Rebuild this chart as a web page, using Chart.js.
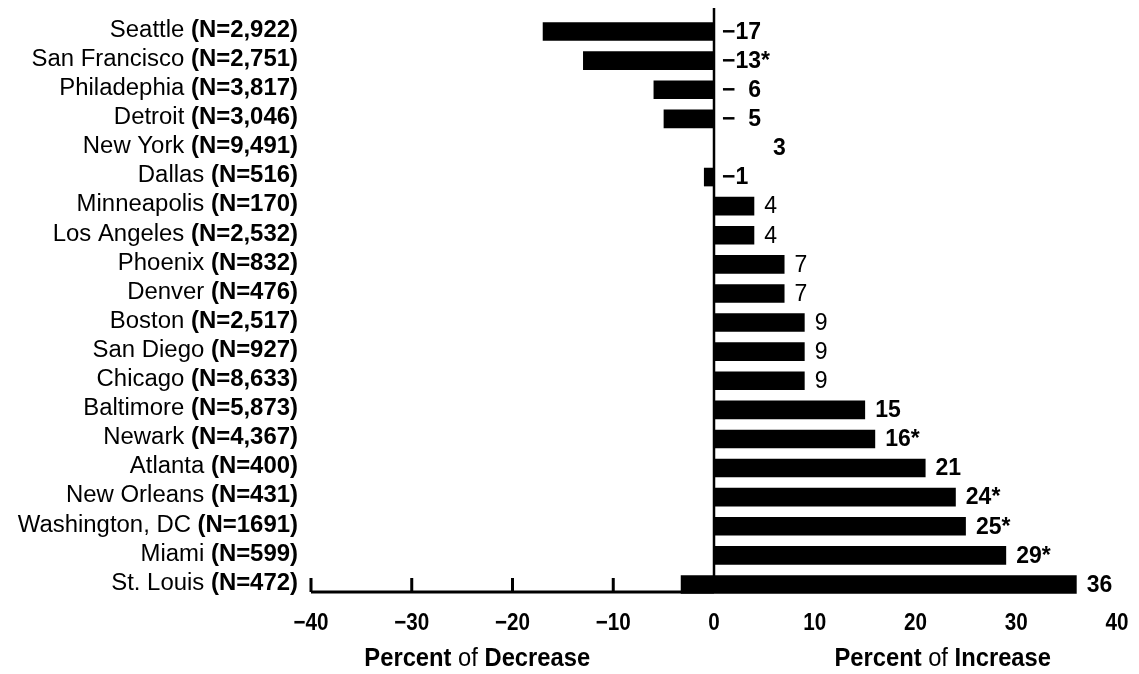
<!DOCTYPE html>
<html>
<head>
<meta charset="utf-8">
<script src="https://cdn.jsdelivr.net/npm/chart.js@4.4.1/dist/chart.umd.min.js"></script>
<style>
  html, body { margin: 0; padding: 0; background: #fff; }
  #wrap { width: 1139px; height: 674px; }
</style>
</head>
<body>
<div id="wrap"><canvas id="chart"></canvas></div>
<script>
// cities top to bottom
var cities = ["Seattle", "San Francisco", "Philadephia", "Detroit", "New York", "Dallas",
  "Minneapolis", "Los Angeles", "Phoenix", "Denver", "Boston", "San Diego", "Chicago",
  "Baltimore", "Newark", "Atlanta", "New Orleans", "Washington, DC", "Miami", "St. Louis"]
var sampleSizes = ["N=2,922", "N=2,751", "N=3,817", "N=3,046", "N=9,491", "N=516",
  "N=170", "N=2,532", "N=832", "N=476", "N=2,517", "N=927", "N=8,633",
  "N=5,873", "N=4,367", "N=400", "N=431", "N=1691", "N=599", "N=472"]
// percent change (New York bar is not visible in the picture)
var changes = [-17, -13, -6, -5, null, -1, 4, 4, 7, 7, 9, 9, 9, 15, 16, 21, 24, 25, 29, 36]
// where each bar starts (St. Louis bar reaches left of the axis in the picture)
var barStarts = [0, 0, 0, 0, 0, 0, 0, 0, 0, 0, 0, 0, 0, 0, 0, 0, 0, 0, 0, -3.3]
var valueLabels = ["\u221217", "\u221213*", "\u2212  6", "\u2212  5", "        3", "\u22121",
  "4", "4", "7", "7", "9", "9", "9", "15", "16*", "21", "24*", "25*", "29*", "36"]
var xTicks = [-40, -30, -20, -10, 0, 10, 20, 30, 40]
var xTickLabels = ["\u221240", "\u221230", "\u221220", "\u221210", "0", "10", "20", "30", "40"]

var FONT = "'Liberation Sans', Arial, sans-serif"

// draws a run of text pieces, some bold, with a horizontal stretch
function drawParts(ctx, parts, x, y, align, size, hscale) {
  var widths = parts.map(function (p) {
    ctx.font = (p.bold ? "bold " : "") + size + "px " + FONT
    return ctx.measureText(p.text).width
  })
  var total = widths.reduce(function (a, b) { return a + b }, 0) * hscale
  var start = align == "right" ? x - total : align == "center" ? x - total / 2 : x
  ctx.save()
  ctx.translate(start, y)
  ctx.scale(hscale, 1)
  ctx.textBaseline = "middle"
  ctx.textAlign = "left"
  ctx.fillStyle = "#000"
  var off = 0
  parts.forEach(function (p, i) {
    ctx.font = (p.bold ? "bold " : "") + size + "px " + FONT
    ctx.fillText(p.text, off, 0)
    off += widths[i]
  })
  ctx.restore()
}

var axesPlugin = {
  id: "axesPlugin",
  beforeDatasetsDraw: function (chart) {
    var ctx = chart.ctx, xs = chart.scales.x, area = chart.chartArea
    var lineY = area.bottom - 7
    var x0 = xs.getPixelForValue(0)
    ctx.save()
    ctx.strokeStyle = "#000"
    // bottom axis line on the decrease side
    ctx.lineWidth = 3
    ctx.beginPath()
    ctx.moveTo(xs.getPixelForValue(-40), lineY)
    ctx.lineTo(x0, lineY)
    ctx.stroke()
    xTicks.forEach(function (v) {
      if (v >= 0) return
      var px = xs.getPixelForValue(v)
      ctx.beginPath()
      ctx.moveTo(px, lineY)
      ctx.lineTo(px, lineY - 14)
      ctx.stroke()
    })
    // zero line
    ctx.lineWidth = 2.5
    ctx.beginPath()
    ctx.moveTo(x0, area.top - 9)
    ctx.lineTo(x0, lineY)
    ctx.stroke()
    ctx.restore()
  },
  afterDatasetsDraw: function (chart) {
    var ctx = chart.ctx, xs = chart.scales.x, ys = chart.scales.y, area = chart.chartArea
    var meta = chart.getDatasetMeta(0)
    var x0 = xs.getPixelForValue(0)
    cities.forEach(function (c, i) {
      var y = ys.getPixelForValue(i)
      drawParts(ctx, [{ text: c + " ", bold: false }, { text: "(" + sampleSizes[i] + ")", bold: true }],
        area.left - 13, y - 1, "right", 23, 1.04)
      var v = changes[i]
      var lx = v > 0 ? meta.data[i].x + 10 : x0 + 8
      var bold = !(v > 0 && v < 10)
      drawParts(ctx, [{ text: valueLabels[i], bold: bold }], lx, y + 1, "left", 23, 1)
    })
    xTicks.forEach(function (v, i) {
      drawParts(ctx, [{ text: xTickLabels[i], bold: true }], xs.getPixelForValue(v), area.bottom + 24, "center", 24, 0.86)
    })
    var ty = area.bottom + 60
    drawParts(ctx, [{ text: "Percent", bold: true }, { text: " of ", bold: false }, { text: "Decrease", bold: true }],
      xs.getPixelForValue(-23.5), ty, "center", 25, 0.95)
    drawParts(ctx, [{ text: "Percent", bold: true }, { text: " of ", bold: false }, { text: "Increase", bold: true }],
      xs.getPixelForValue(22.7), ty, "center", 25, 0.95)
  }
}

new Chart(document.getElementById("chart"), {
  type: "bar",
  data: {
    labels: cities,
    datasets: [{
      data: changes.map(function (v, i) { return v == null ? null : [barStarts[i], v] }),
      backgroundColor: "#000",
      borderWidth: 0,
      barPercentage: 0.64,
      categoryPercentage: 1
    }]
  },
  options: {
    indexAxis: "y",
    responsive: true,
    maintainAspectRatio: false,
    animation: false,
    layout: { padding: { left: 311, right: 22, top: 17, bottom: 75 } },
    plugins: { legend: { display: false }, tooltip: { enabled: false } },
    scales: {
      x: { type: "linear", min: -40, max: 40, display: false },
      y: { display: false }
    }
  },
  plugins: [axesPlugin]
})
</script>
</body>
</html>
